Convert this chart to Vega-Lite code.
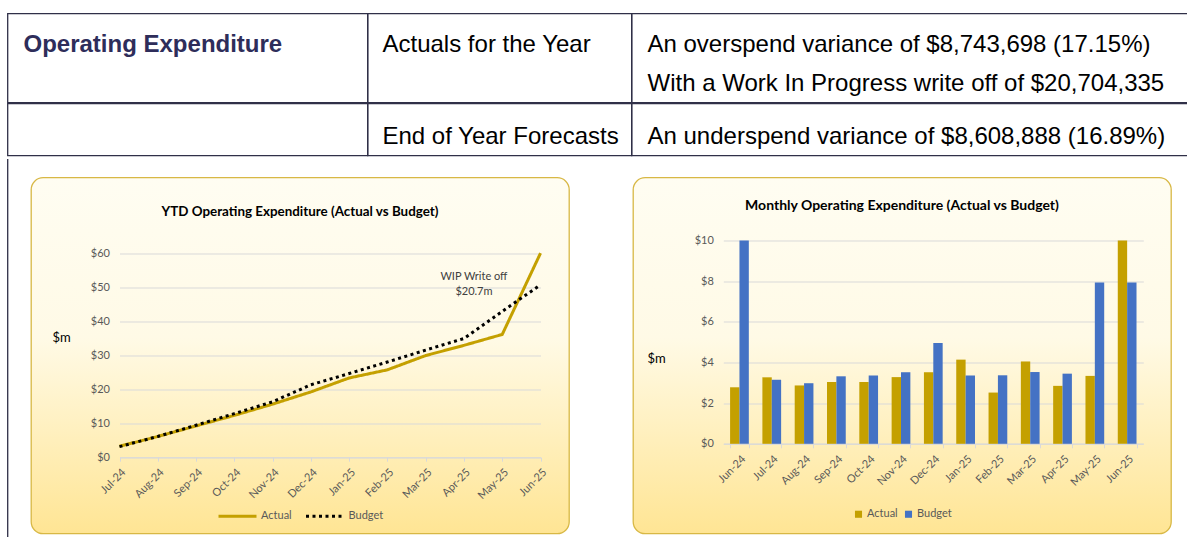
{
  "$schema": "https://vega.github.io/schema/vega-lite/v6.json",
  "background": "white",
  "padding": {"left": 6.5, "top": 12.5, "right": 0, "bottom": 0},
  "spacing": -3,
  "config": {
    "font": "Lato",
    "view": {"stroke": null},
    "axis": {"labelFont": "Lato", "titleFont": "Lato"},
    "legend": {"labelFont": "Lato"}
  },
  "vconcat": [
    {
      "hconcat": [
        {
          "width": 360, "height": 89,
          "view": {"stroke": "#303048", "strokeWidth": 1.3},
          "data": {"values": [{"line": "1", "text": "Operating Expenditure"}]},
          "mark": {"type": "text", "align": "left", "baseline": "alphabetic", "font": "Liberation Sans", "fontSize": 24, "fontWeight": "bold", "fill": "#2E2D5A"},
          "encoding": {
            "x": {"value": 16},
            "y": {"field": "line", "type": "ordinal", "scale": {"type": "point", "domain": ["1", "2"], "range": [38, 77], "padding": 0}, "axis": null},
            "text": {"field": "text"}
          }
        },
        {
          "width": 264, "height": 89,
          "view": {"stroke": "#303048", "strokeWidth": 1.3},
          "data": {"values": [{"line": "1", "text": "Actuals for the Year"}]},
          "mark": {"type": "text", "align": "left", "baseline": "alphabetic", "font": "Liberation Sans", "fontSize": 24, "fill": "#000000"},
          "encoding": {
            "x": {"value": 15},
            "y": {"field": "line", "type": "ordinal", "scale": {"type": "point", "domain": ["1", "2"], "range": [38, 77], "padding": 0}, "axis": null},
            "text": {"field": "text"}
          }
        },
        {
          "width": 560, "height": 89,
          "view": {"stroke": "#303048", "strokeWidth": 1.3},
          "data": {"values": [
            {"line": "1", "text": "An overspend variance of $8,743,698 (17.15%)"},
            {"line": "2", "text": "With a Work In Progress write off of $20,704,335"}
          ]},
          "mark": {"type": "text", "align": "left", "baseline": "alphabetic", "font": "Liberation Sans", "fontSize": 24, "fill": "#000000"},
          "encoding": {
            "x": {"value": 16},
            "y": {"field": "line", "type": "ordinal", "scale": {"type": "point", "domain": ["1", "2"], "range": [38, 77], "padding": 0}, "axis": null},
            "text": {"field": "text"}
          }
        }
      ],
      "spacing": 0,
      "bounds": "flush"
    },
    {
      "hconcat": [
        {
          "width": 360, "height": 52,
          "view": {"stroke": "#303048", "strokeWidth": 1.3},
          "data": {"values": [{"line": "1", "text": ""}]},
          "mark": {"type": "text", "align": "left", "baseline": "alphabetic", "font": "Liberation Sans", "fontSize": 24, "fill": "#000000"},
          "encoding": {
            "x": {"value": 16},
            "y": {"field": "line", "type": "ordinal", "scale": {"type": "point", "domain": ["1", "2"], "range": [40, 79], "padding": 0}, "axis": null},
            "text": {"field": "text"}
          }
        },
        {
          "width": 264, "height": 52,
          "view": {"stroke": "#303048", "strokeWidth": 1.3},
          "data": {"values": [{"line": "1", "text": "End of Year Forecasts"}]},
          "mark": {"type": "text", "align": "left", "baseline": "alphabetic", "font": "Liberation Sans", "fontSize": 24, "fill": "#000000"},
          "encoding": {
            "x": {"value": 15},
            "y": {"field": "line", "type": "ordinal", "scale": {"type": "point", "domain": ["1", "2"], "range": [40, 79], "padding": 0}, "axis": null},
            "text": {"field": "text"}
          }
        },
        {
          "width": 560, "height": 52,
          "view": {"stroke": "#303048", "strokeWidth": 1.3},
          "data": {"values": [{"line": "1", "text": "An underspend variance of $8,608,888 (16.89%)"}]},
          "mark": {"type": "text", "align": "left", "baseline": "alphabetic", "font": "Liberation Sans", "fontSize": 24, "fill": "#000000"},
          "encoding": {
            "x": {"value": 16},
            "y": {"field": "line", "type": "ordinal", "scale": {"type": "point", "domain": ["1", "2"], "range": [40, 79], "padding": 0}, "axis": null},
            "text": {"field": "text"}
          }
        }
      ],
      "spacing": 0,
      "bounds": "flush"
    },
    {
      "hconcat": [
        {
          "width": 0.01, "height": 380,
          "view": {"stroke": "#303048", "strokeWidth": 1.3},
          "data": {"values": [{"text": ""}]},
          "mark": {"type": "text"},
          "encoding": {"text": {"field": "text"}}
        },
        {
          "vconcat": [
            {
              "width": 0.01, "height": 0.01,
              "view": {"fill": "#ffffff", "stroke": null},
              "data": {"values": [{"text": ""}]},
              "mark": {"type": "text"},
              "encoding": {"text": {"field": "text"}}
            },
            {
              "hconcat": [
                {
                  "width": 538, "height": 356,
                  "view": {
                    "fill": {"gradient": "linear", "x1": 0, "y1": 0, "x2": 0, "y2": 1, "stops": [{"offset": 0, "color": "#FFFDF2"}, {"offset": 0.45, "color": "#FFFAE6"}, {"offset": 1, "color": "#FFE594"}]},
                    "stroke": "#D8B845", "strokeWidth": 1.3, "cornerRadius": 12
                  },
                  "title": {"text": "YTD Operating Expenditure (Actual vs Budget)", "offset": -48, "baseline": "middle", "anchor": "middle", "frame": "group", "fontSize": 13.4, "fontWeight": "bold", "color": "#000000", "font": "Lato"},
                  "encoding": {
                    "x": {
                      "field": "month", "type": "ordinal",
                      "sort": ["Jul-24", "Aug-24", "Sep-24", "Oct-24", "Nov-24", "Dec-24", "Jan-25", "Feb-25", "Mar-25", "Apr-25", "May-25", "Jun-25"],
                      "scale": {"type": "point", "range": [88.5, 509.5], "padding": 0},
                      "axis": {"title": null, "offset": -76.3, "labelAngle": -45, "labelFontSize": 11, "labelColor": "#595959", "domainColor": "#D9D9D9", "tickColor": "#D9D9D9", "tickSize": 4, "grid": false, "labelPadding": 5}
                    },
                    "y": {
                      "field": "value", "type": "quantitative",
                      "scale": {"domain": [0, 60], "range": [279.7, 75.7], "nice": false},
                      "axis": {"values": [0, 10, 20, 30, 40, 50, 60], "format": "$.0f", "offset": -88.5, "domain": false, "ticks": false, "grid": true, "gridColor": "#D9D9D9", "labelPadding": 10, "labelFontSize": 11, "labelColor": "#595959", "title": "$m", "titleAngle": 0, "titleX": -58.5, "titleY": 160, "titleAlign": "center", "titleBaseline": "middle", "titleFontSize": 13, "titleFontWeight": "normal", "titleColor": "#000000"}
                    }
                  },
                  "layer": [
                    {
                      "data": {"values": [
                        {"month": "Jul-24", "series": "Actual", "value": 3.2},
                        {"month": "Aug-24", "series": "Actual", "value": 6.1},
                        {"month": "Sep-24", "series": "Actual", "value": 9.2},
                        {"month": "Oct-24", "series": "Actual", "value": 12.3},
                        {"month": "Nov-24", "series": "Actual", "value": 15.6},
                        {"month": "Dec-24", "series": "Actual", "value": 19.2},
                        {"month": "Jan-25", "series": "Actual", "value": 23.3},
                        {"month": "Feb-25", "series": "Actual", "value": 25.7},
                        {"month": "Mar-25", "series": "Actual", "value": 29.9},
                        {"month": "Apr-25", "series": "Actual", "value": 32.9},
                        {"month": "May-25", "series": "Actual", "value": 36.1},
                        {"month": "Jun-25", "series": "Actual", "value": 60.0},
                        {"month": "Jul-24", "series": "Budget", "value": 3.1},
                        {"month": "Aug-24", "series": "Budget", "value": 6.1},
                        {"month": "Sep-24", "series": "Budget", "value": 9.4},
                        {"month": "Oct-24", "series": "Budget", "value": 12.8},
                        {"month": "Nov-24", "series": "Budget", "value": 16.3},
                        {"month": "Dec-24", "series": "Budget", "value": 21.3},
                        {"month": "Jan-25", "series": "Budget", "value": 24.6},
                        {"month": "Feb-25", "series": "Budget", "value": 28.0},
                        {"month": "Mar-25", "series": "Budget", "value": 31.5},
                        {"month": "Apr-25", "series": "Budget", "value": 34.9},
                        {"month": "May-25", "series": "Budget", "value": 42.9},
                        {"month": "Jun-25", "series": "Budget", "value": 50.7}
                      ]},
                      "mark": {"type": "line", "strokeWidth": 3},
                      "encoding": {
                        "color": {"field": "series", "type": "nominal", "scale": {"domain": ["Actual", "Budget"], "range": ["#C4A000", "#000000"]},
                          "legend": {"orient": "none", "legendX": 186, "legendY": 318, "direction": "horizontal", "title": null, "symbolType": "stroke", "symbolSize": 1444, "symbolStrokeWidth": 3, "labelFontSize": 11, "labelColor": "#595959", "columnPadding": 7.5, "labelOffset": 3}},
                        "strokeDash": {"field": "series", "type": "nominal", "scale": {"domain": ["Actual", "Budget"], "range": [[1, 0], [3, 3.5]]},
                          "legend": {"orient": "none", "legendX": 186, "legendY": 318, "direction": "horizontal", "title": null, "symbolType": "stroke", "symbolSize": 1444, "symbolStrokeWidth": 3, "labelFontSize": 11, "labelColor": "#595959", "columnPadding": 7.5, "labelOffset": 3}}
                      }
                    },
                    {
                      "data": {"values": [
                        {"month": "Apr-25", "value": 52.9, "label": "WIP Write off"},
                        {"month": "Apr-25", "value": 48.5, "label": "$20.7m"}
                      ]},
                      "mark": {"type": "text", "dx": 10, "fontSize": 11, "fill": "#404040", "font": "Lato", "baseline": "middle"},
                      "encoding": {"text": {"field": "label"}}
                    }
                  ]
                },
                {
                  "width": 538, "height": 356,
                  "view": {
                    "fill": {"gradient": "linear", "x1": 0, "y1": 0, "x2": 0, "y2": 1, "stops": [{"offset": 0, "color": "#FFFDF2"}, {"offset": 0.45, "color": "#FFFAE6"}, {"offset": 1, "color": "#FFE594"}]},
                    "stroke": "#D8B845", "strokeWidth": 1.3, "cornerRadius": 12
                  },
                  "title": {"text": "Monthly Operating Expenditure (Actual vs Budget)", "offset": -42, "baseline": "middle", "anchor": "middle", "frame": "group", "fontSize": 14, "fontWeight": "bold", "color": "#000000", "font": "Lato"},
                  "data": {"values": [
                    {"month": "Jun-24", "series": "Actual", "value": 2.78},
                    {"month": "Jul-24", "series": "Actual", "value": 3.27},
                    {"month": "Aug-24", "series": "Actual", "value": 2.87},
                    {"month": "Sep-24", "series": "Actual", "value": 3.04},
                    {"month": "Oct-24", "series": "Actual", "value": 3.04},
                    {"month": "Nov-24", "series": "Actual", "value": 3.28},
                    {"month": "Dec-24", "series": "Actual", "value": 3.52},
                    {"month": "Jan-25", "series": "Actual", "value": 4.14},
                    {"month": "Feb-25", "series": "Actual", "value": 2.52},
                    {"month": "Mar-25", "series": "Actual", "value": 4.05},
                    {"month": "Apr-25", "series": "Actual", "value": 2.85},
                    {"month": "May-25", "series": "Actual", "value": 3.34},
                    {"month": "Jun-25", "series": "Actual", "value": 10.0},
                    {"month": "Jun-24", "series": "Budget", "value": 10.0},
                    {"month": "Jul-24", "series": "Budget", "value": 3.15},
                    {"month": "Aug-24", "series": "Budget", "value": 2.98},
                    {"month": "Sep-24", "series": "Budget", "value": 3.32},
                    {"month": "Oct-24", "series": "Budget", "value": 3.36},
                    {"month": "Nov-24", "series": "Budget", "value": 3.52},
                    {"month": "Dec-24", "series": "Budget", "value": 4.96},
                    {"month": "Jan-25", "series": "Budget", "value": 3.36},
                    {"month": "Feb-25", "series": "Budget", "value": 3.37},
                    {"month": "Mar-25", "series": "Budget", "value": 3.53},
                    {"month": "Apr-25", "series": "Budget", "value": 3.45},
                    {"month": "May-25", "series": "Budget", "value": 7.93},
                    {"month": "Jun-25", "series": "Budget", "value": 7.93}
                  ]},
                  "mark": {"type": "bar"},
                  "encoding": {
                    "x": {
                      "field": "month", "type": "nominal",
                      "sort": ["Jun-24", "Jul-24", "Aug-24", "Sep-24", "Oct-24", "Nov-24", "Dec-24", "Jan-25", "Feb-25", "Mar-25", "Apr-25", "May-25", "Jun-25"],
                      "scale": {"type": "band", "range": [90.3, 510.3], "paddingInner": 0.42, "paddingOuter": 0.21},
                      "axis": {"title": null, "offset": -89.7, "labelAngle": -45, "labelFontSize": 11, "labelColor": "#595959", "domainColor": "#D9D9D9", "tickColor": "#D9D9D9", "tickSize": 4, "tickBand": "extent", "grid": false, "labelPadding": 5}
                    },
                    "xOffset": {"field": "series", "type": "nominal", "scale": {"domain": ["Actual", "Budget"], "paddingInner": 0, "paddingOuter": 0}},
                    "y": {
                      "field": "value", "type": "quantitative",
                      "scale": {"domain": [0, 10], "range": [266.3, 63], "nice": false},
                      "axis": {"values": [0, 2, 4, 6, 8, 10], "format": "$.0f", "offset": -90.3, "domain": false, "ticks": false, "grid": true, "gridColor": "#D9D9D9", "labelPadding": 10, "labelFontSize": 11, "labelColor": "#595959", "title": "$m", "titleAngle": 0, "titleX": -67.3, "titleY": 181, "titleAlign": "center", "titleBaseline": "middle", "titleFontSize": 13, "titleFontWeight": "normal", "titleColor": "#000000"}
                    },
                    "color": {"field": "series", "type": "nominal", "scale": {"domain": ["Actual", "Budget"], "range": ["#C4A000", "#4472C4"]},
                      "legend": {"orient": "none", "legendX": 220, "legendY": 331, "direction": "horizontal", "title": null, "symbolType": "square", "symbolSize": 50, "symbolStrokeWidth": 0, "labelFontSize": 11, "labelColor": "#595959", "columnPadding": 5, "labelOffset": 3}}
                  }
                }
              ],
              "spacing": 62,
              "resolve": {"scale": {"color": "independent", "strokeDash": "independent"}, "legend": {"color": "independent", "strokeDash": "independent"}}
            }
          ],
          "spacing": 11
        }
      ],
      "spacing": 21.5
    }
  ]
}
